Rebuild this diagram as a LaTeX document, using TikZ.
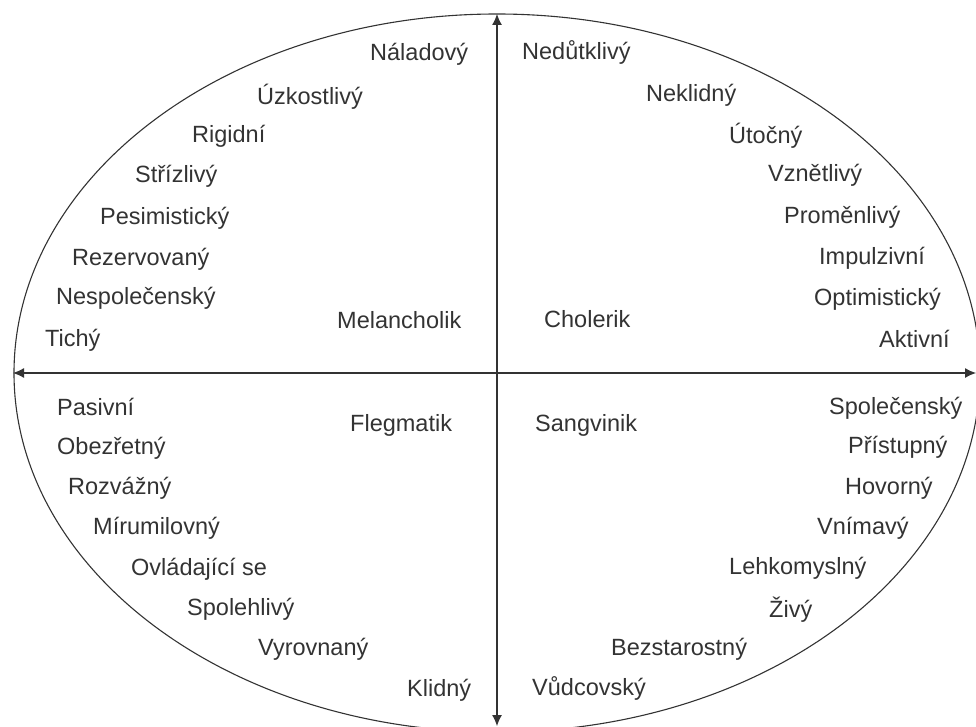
\documentclass[tikz,border=0pt]{standalone}
\usepackage{fontspec}
\setmainfont{Liberation Sans}
\usetikzlibrary{arrows.meta}
\definecolor{ink}{HTML}{333333}
\tikzset{
  lbl/.style={anchor=west, inner sep=0pt, yshift=-4pt, text=ink, font=\fontsize{23.5}{26}\selectfont, text height=0.72em, text depth=0pt},
  axis/.style={draw=ink, line width=1.1pt, {Latex[length=11pt,width=10pt]}-{Latex[length=11pt,width=10pt]}},
  rim/.style={draw=ink, line width=1.1pt}
}
\begin{document}
\begin{tikzpicture}[x=1pt,y=-1pt]
\useasboundingbox (0,0) rectangle (976,727);
\draw[rim] (497,373) ellipse [x radius=483, y radius=359];
\coordinate (top) at (497,14);
\coordinate (bot) at (497,726);
\coordinate (lft) at (13,373);
\coordinate (rgt) at (976,373);
\draw[axis] (bot) -- (top);
\draw[axis] (lft) -- (rgt);
% upper left
\node[lbl] (n1) at (370,53) {Náladový};
\node[lbl] (n2) at (257,97) {Úzkostlivý};
\node[lbl] (n3) at (192,135) {Rigidní};
\node[lbl] (n4) at (135,175) {Střízlivý};
\node[lbl] (n5) at (100,217) {Pesimistický};
\node[lbl] (n6) at (72,258) {Rezervovaný};
\node[lbl] (n7) at (56,297) {Nespolečenský};
\node[lbl] (n8) at (45,339) {Tichý};
\node[lbl] (mel) at (337,321) {Melancholik};
% upper right
\node[lbl] (c1) at (522,52) {Nedůtklivý};
\node[lbl] (c2) at (646,94) {Neklidný};
\node[lbl] (c3) at (729,136) {Útočný};
\node[lbl] (c4) at (768,174) {Vznětlivý};
\node[lbl] (c5) at (784,216) {Proměnlivý};
\node[lbl] (c6) at (819,257) {Impulzivní};
\node[lbl] (c7) at (814,298) {Optimistický};
\node[lbl] (c8) at (879,340) {Aktivní};
\node[lbl] (cho) at (544,320) {Cholerik};
% lower left
\node[lbl] (f1) at (57,408) {Pasivní};
\node[lbl] (f2) at (57,447) {Obezřetný};
\node[lbl] (f3) at (68,487) {Rozvážný};
\node[lbl] (f4) at (93,527) {Mírumilovný};
\node[lbl] (f5) at (131,568) {Ovládající se};
\node[lbl] (f6) at (187,608) {Spolehlivý};
\node[lbl] (f7) at (258,648) {Vyrovnaný};
\node[lbl] (f8) at (407,689) {Klidný};
\node[lbl] (fle) at (350,424) {Flegmatik};
% lower right
\node[lbl] (s1) at (829,407) {Společenský};
\node[lbl] (s2) at (848,446) {Přístupný};
\node[lbl] (s3) at (845,487) {Hovorný};
\node[lbl] (s4) at (817,527) {Vnímavý};
\node[lbl] (s5) at (729,567) {Lehkomyslný};
\node[lbl] (s6) at (769,610) {Živý};
\node[lbl] (s7) at (611,648) {Bezstarostný};
\node[lbl] (s8) at (532,688) {Vůdcovský};
\node[lbl] (san) at (535,424) {Sangvinik};
\end{tikzpicture}
\end{document}
